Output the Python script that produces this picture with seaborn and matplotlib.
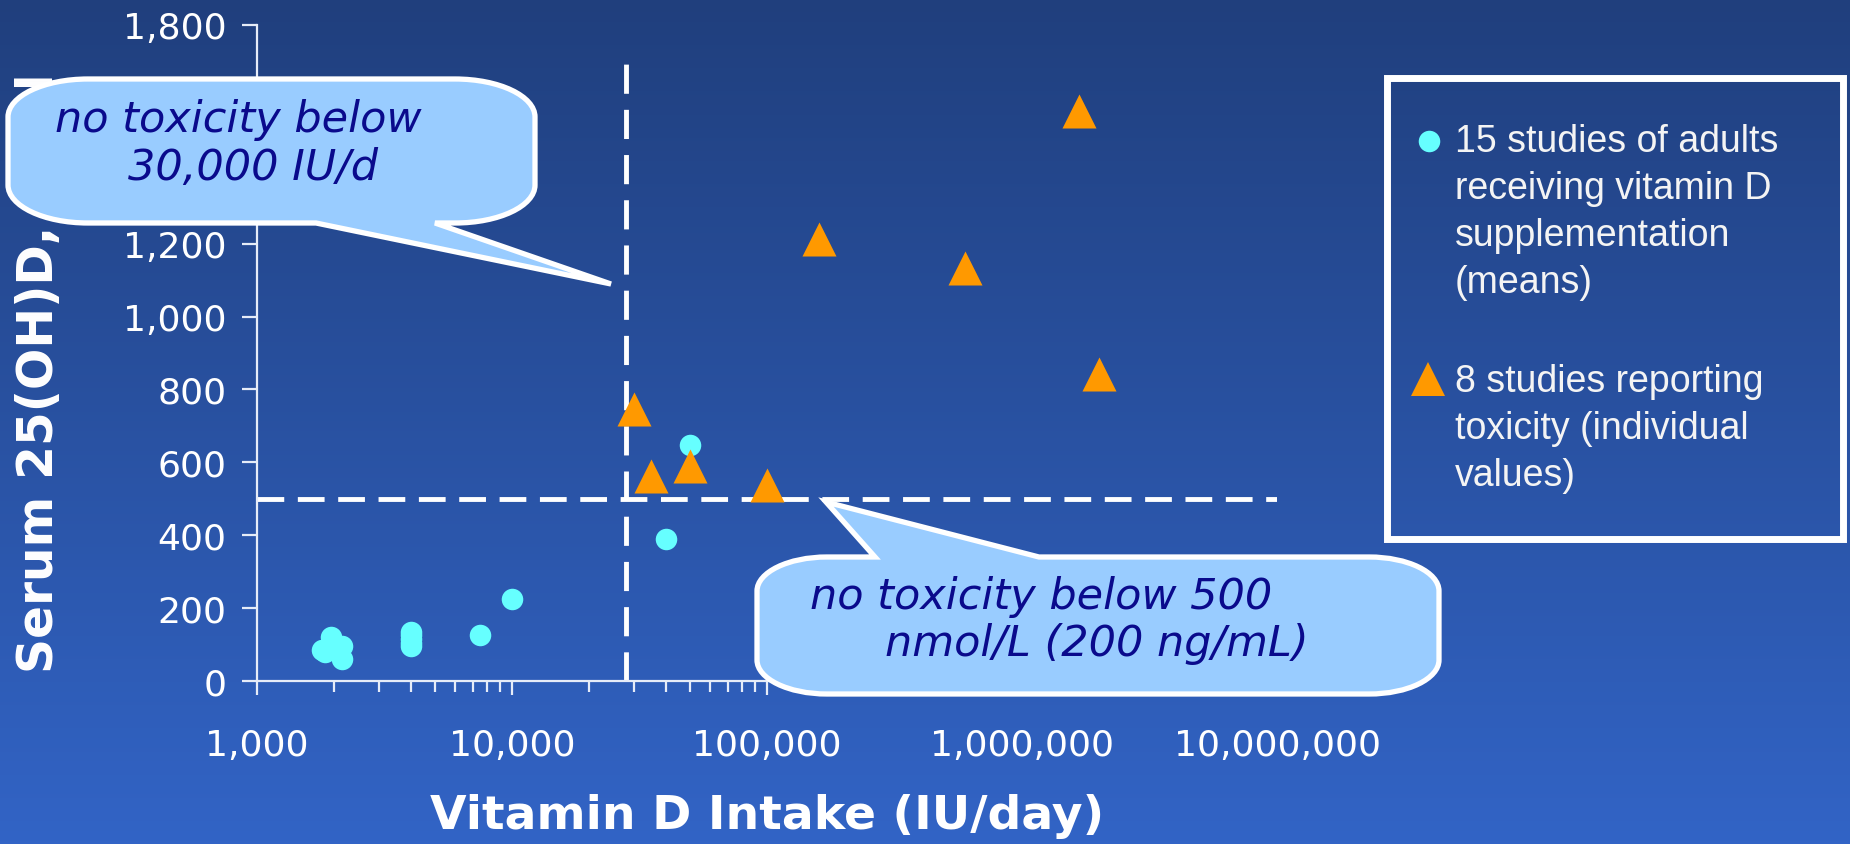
import numpy as np
import pandas as pd
import matplotlib
matplotlib.use('Agg')
import matplotlib.pyplot as plt
import seaborn as sns
from matplotlib.path import Path
from matplotlib.patches import PathPatch, Rectangle
from matplotlib.lines import Line2D
from matplotlib.colors import LinearSegmentedColormap
from matplotlib.ticker import LogLocator, FixedLocator, FixedFormatter, NullFormatter

# 15 studies of adults receiving vitamin D supplementation (means)
adult_intake = [1800, 1850, 1950, 2000, 2150, 2150, 4000, 4000, 4000, 4000, 4000, 7500, 10000, 40000, 50000]
adult_serum = [86, 80, 120, 100, 95, 60, 95, 105, 115, 125, 134, 127, 225, 390, 648]

# 8 studies reporting toxicity (individual values)
tox_intake = [30000, 35000, 50000, 100000, 160000, 600000, 1670000, 2000000]
tox_serum = [745, 563, 590, 538, 1213, 1133, 1564, 842]

x_ticks = [1000, 10000, 100000, 1000000, 10000000]
x_tick_labels = ['1,000', '10,000', '100,000', '1,000,000', '10,000,000']
y_ticks = [0, 200, 400, 600, 800, 1000, 1200, 1400, 1600, 1800]
# 1,400 and 1,600 sit under the callout and are not visible
y_tick_labels = ['0', '200', '400', '600', '800', '1,000', '1,200', '', '', '1,800']

intake_limit = 28000
serum_limit = 500

legend_adults = ['15 studies of adults', 'receiving vitamin D', 'supplementation', '(means)']
legend_tox = ['8 studies reporting', 'toxicity (individual', 'values)']
note_intake = ['no toxicity below', '30,000 IU/d']
note_serum = ['no toxicity below 500', 'nmol/L (200 ng/mL)']

cyan = '#66ffff'
orange = '#ff9900'
bubble_fill = '#99ccff'
note_color = '#0a0a8c'

sns.set_theme(style='ticks')
plt.rcParams['font.family'] = ['DejaVu Sans']

adults = pd.DataFrame({'intake': adult_intake, 'serum': adult_serum})
tox = pd.DataFrame({'intake': tox_intake, 'serum': tox_serum})

fig = plt.figure(figsize=(18.5, 8.45), dpi=100)

# background gradient
bg = fig.add_axes([0, 0, 1, 1], zorder=-10)
cmap = LinearSegmentedColormap.from_list('bg', ['#203f7d', '#3264c6'])
bg.imshow(np.linspace(0, 1, 256).reshape(-1, 1), cmap=cmap, aspect='auto', extent=[0, 1, 0, 1])
bg.axis('off')

ax = fig.add_axes([257 / 1850, 1 - 682 / 845, 1020 / 1850, 656 / 845])
ax.set_facecolor('none')

ax.set_xscale('log')
ax.axhline(serum_limit, color='white', lw=3.5, ls=(0, (5.5, 2.8)), zorder=1)
ax.plot([intake_limit, intake_limit], [0, 1720], color='white', lw=3.5, ls=(0, (6, 3.3)), zorder=1)

sns.scatterplot(data=adults, x='intake', y='serum', ax=ax, color=cyan, marker='o',
                s=240, linewidth=0, zorder=3)
sns.scatterplot(data=tox, x='intake', y='serum', ax=ax, color=orange, marker='^',
                s=600, linewidth=0, zorder=4)

ax.set_xlim(1000, 10000000)
ax.set_ylim(0, 1800)
ax.xaxis.set_major_locator(FixedLocator(x_ticks))
ax.xaxis.set_major_formatter(FixedFormatter(x_tick_labels))
ax.xaxis.set_minor_locator(LogLocator(base=10, subs=np.arange(2, 10)))
ax.xaxis.set_minor_formatter(NullFormatter())
ax.set_yticks(y_ticks)
ax.set_yticklabels(y_tick_labels)

for side in ['top', 'right']:
    ax.spines[side].set_visible(False)
for side in ['left', 'bottom']:
    ax.spines[side].set_color('#e6ecf8')
    ax.spines[side].set_linewidth(1.6)

ax.tick_params(axis='x', which='major', length=10, width=1.6, color='#e6ecf8', pad=24,
               labelsize=26, labelcolor='white')
ax.tick_params(axis='x', which='minor', length=8, width=1.6, color='#e6ecf8')
ax.tick_params(axis='y', length=11, width=1.6, color='#e6ecf8', pad=11,
               labelsize=26, labelcolor='white')

ax.set_xlabel('Vitamin D Intake (IU/day)', fontsize=34, fontweight='bold', color='white')
ax.set_ylabel('Serum 25(OH)D, nmol', fontsize=35, fontweight='bold', color='white')
ax.xaxis.set_label_coords(0.5, -0.17)
ax.yaxis.set_label_coords(-0.19, 0.47)

# overlay in pixel coordinates for the callouts and legend box
ov = fig.add_axes([0, 0, 1, 1], zorder=5)
ov.set_xlim(0, 1850)
ov.set_ylim(845, 0)
ov.axis('off')


def bubble(left, top, right, bottom, rx, ry, tail, side):
    k = 0.5523
    verts, codes = [(left + rx, top)], [Path.MOVETO]

    def line(p):
        verts.append(p)
        codes.append(Path.LINETO)

    def curve(c1, c2, p):
        verts.extend([c1, c2, p])
        codes.extend([Path.CURVE4] * 3)

    if side == 'top':
        for p in tail:
            line(p)
    line((right - rx, top))
    curve((right - rx * (1 - k), top), (right, top + ry * (1 - k)), (right, top + ry))
    line((right, bottom - ry))
    curve((right, bottom - ry * (1 - k)), (right - rx * (1 - k), bottom), (right - rx, bottom))
    if side == 'bottom':
        for p in tail:
            line(p)
    line((left + rx, bottom))
    curve((left + rx * (1 - k), bottom), (left, bottom - ry * (1 - k)), (left, bottom - ry))
    line((left, top + ry))
    curve((left, top + ry * (1 - k)), (left + rx * (1 - k), top), (left + rx, top))
    verts.append((left + rx, top))
    codes.append(Path.CLOSEPOLY)
    return Path(verts, codes)


b1 = bubble(8, 80, 535, 224, 80, 38, [(435, 224), (611, 285), (316, 224)], 'bottom')
b2 = bubble(757, 558, 1439, 695, 70, 34, [(875, 558), (826, 503), (1039, 558)], 'top')
for b in [b1, b2]:
    ov.add_patch(PathPatch(b, facecolor=bubble_fill, edgecolor='white', lw=3.8, joinstyle='miter'))

ov.text(55, 120, note_intake[0], fontsize=31, style='italic', color=note_color, va='center')
ov.text(128, 168, note_intake[1], fontsize=31, style='italic', color=note_color, va='center')
ov.text(810, 597, note_serum[0], fontsize=31, style='italic', color=note_color, va='center')
ov.text(885, 644, note_serum[1], fontsize=31, style='italic', color=note_color, va='center')

# legend box
ov.add_patch(Rectangle((1386.5, 78.5), 456, 461, fill=False, edgecolor='white', lw=5))
ov.add_line(Line2D([1429], [142], marker='o', ms=15.5, color=cyan, ls='', mew=0))
ov.add_line(Line2D([1428], [380], marker='^', ms=24, color=orange, ls='', mew=0))
for i, t in enumerate(legend_adults):
    ov.text(1455, 142 + i * 47, t, fontsize=27, family='Liberation Sans', color='#f4f4f4', va='center')
for i, t in enumerate(legend_tox):
    ov.text(1455, 382 + i * 47, t, fontsize=27, family='Liberation Sans', color='#f4f4f4', va='center')

fig.savefig('out.png', dpi=100)
